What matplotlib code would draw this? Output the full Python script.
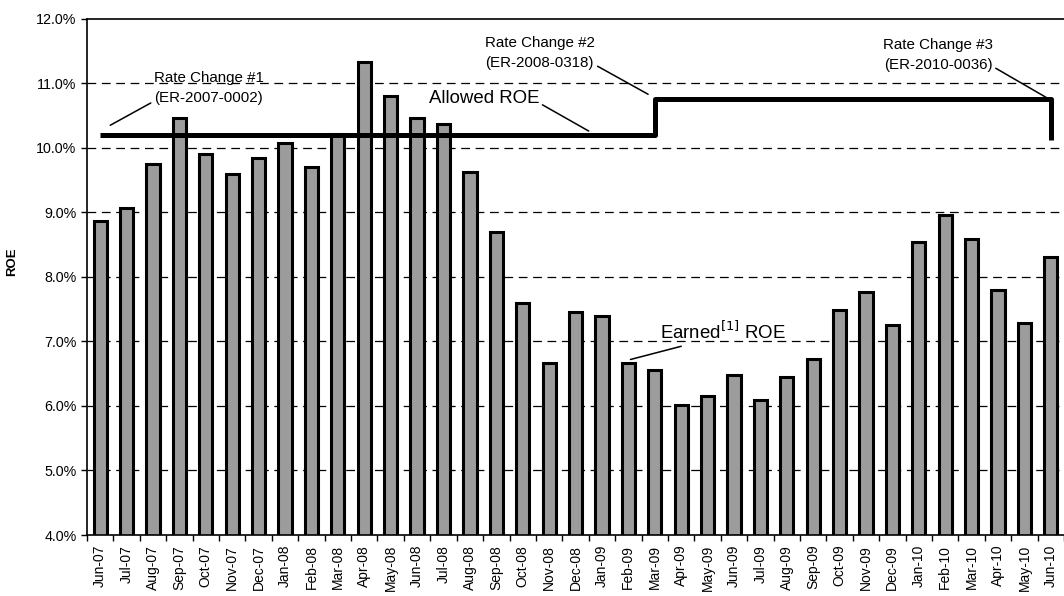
import numpy as np
import matplotlib
matplotlib.use('Agg')
import matplotlib.pyplot as plt

plt.rcParams['font.family'] = ['Liberation Sans', 'DejaVu Sans']

# Monthly data, Jun-07 .. Jun-10
months = ['Jun-07', 'Jul-07', 'Aug-07', 'Sep-07', 'Oct-07', 'Nov-07', 'Dec-07',
          'Jan-08', 'Feb-08', 'Mar-08', 'Apr-08', 'May-08', 'Jun-08', 'Jul-08',
          'Aug-08', 'Sep-08', 'Oct-08', 'Nov-08', 'Dec-08', 'Jan-09', 'Feb-09',
          'Mar-09', 'Apr-09', 'May-09', 'Jun-09', 'Jul-09', 'Aug-09', 'Sep-09',
          'Oct-09', 'Nov-09', 'Dec-09', 'Jan-10', 'Feb-10', 'Mar-10', 'Apr-10',
          'May-10', 'Jun-10']

earned_roe = [8.86, 9.07, 9.75, 10.47, 9.90, 9.59, 9.84,
              10.07, 9.70, 10.22, 11.33, 10.80, 10.47, 10.37,
              9.62, 8.69, 7.60, 6.67, 7.45, 7.40, 6.66,
              6.56, 6.02, 6.16, 6.48, 6.10, 6.45, 6.73,
              7.48, 7.76, 7.26, 8.54, 8.96, 8.59, 7.79,
              7.28, 8.31]

allowed_roe = [10.2] * 21 + [10.75] * 15 + [10.12]

x = np.arange(len(months))

fig = plt.figure(figsize=(10.64, 5.96), dpi=100)
ax = fig.add_axes([0.0818, 0.1023, 0.9182, 0.8662])

ax.bar(x, earned_roe, width=0.5, color='#9c9c9c', edgecolor='black',
       linewidth=2.2, zorder=2)
ax.plot(x, allowed_roe, drawstyle='steps-post', color='black', lw=3.6,
        zorder=3, solid_capstyle='butt')

ax.set_ylim(4, 12)
ax.set_xlim(-0.5, 36.25)
ax.set_yticks(np.arange(4, 12.1, 1))
ax.set_yticklabels([f'{v:.1f}%' for v in np.arange(4, 12.1, 1)], fontsize=10.3)
ax.set_xticks(x)
ax.set_xticklabels(months, rotation=90, fontsize=10)
ax.set_xticks(np.arange(-0.5, 37, 1), minor=True)
ax.tick_params(axis='x', which='major', length=0, pad=7)
ax.tick_params(axis='x', which='minor', length=4, width=1, direction='out')
ax.tick_params(axis='y', length=4, width=1, direction='out')

for v in range(5, 12):
    ax.axhline(v, color='black', lw=0.9, linestyle=(0, (7, 4.5)), zorder=1)

ax.spines['right'].set_visible(False)
for s in ['left', 'bottom', 'top']:
    ax.spines[s].set_linewidth(1.2)

ax.set_ylabel('ROE', fontsize=9.5, fontweight='bold')
ax.yaxis.set_label_coords(-0.071, 0.529)

line = dict(arrowstyle='-', color='black', lw=1.1, shrinkA=0, shrinkB=0)
ax.annotate('Rate Change #1\n(ER-2007-0002)', xy=(0.38, 10.35), xytext=(4.1, 10.93),
            ha='center', va='center', fontsize=10.9, linespacing=1.55,
            arrowprops=dict(line, relpos=(0, 0.1)))
ax.annotate('Rate Change #2\n(ER-2008-0318)', xy=(20.75, 10.83), xytext=(16.65, 11.47),
            ha='center', va='center', fontsize=10.9, linespacing=1.5,
            arrowprops=dict(line, relpos=(1, 0.15)))
ax.annotate('Allowed ROE', xy=(18.5, 10.26), xytext=(14.55, 10.77),
            ha='center', va='center', fontsize=13.4,
            arrowprops=dict(line, relpos=(1, 0.2)))
ax.annotate('Rate Change #3\n(ER-2010-0036)', xy=(35.83, 10.78), xytext=(31.73, 11.44),
            ha='center', va='center', fontsize=10.9, linespacing=1.5,
            arrowprops=dict(line, relpos=(1, 0.15)))
ax.annotate('Earned$^{[1]}$ ROE', xy=(20.08, 6.72), xytext=(23.6, 7.14),
            ha='center', va='center', fontsize=13.4,
            arrowprops=dict(line, relpos=(0.25, 0)))

fig.savefig('out.png', dpi=100)
